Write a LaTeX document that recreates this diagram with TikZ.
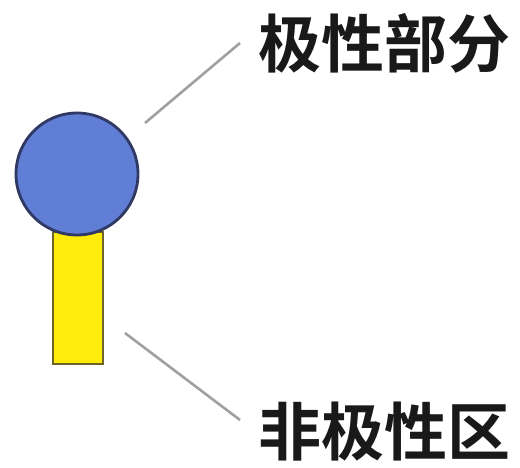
\documentclass[tikz,border=0pt]{standalone}
\usepackage{fontspec}
\newfontfamily\cjk{Noto Sans CJK SC}[BoldFont={* Bold}]
\definecolor{headblue}{RGB}{96,126,214}
\definecolor{headline}{RGB}{48,56,100}
\definecolor{tailyellow}{RGB}{255,236,10}
\definecolor{tailline}{RGB}{110,100,40}
\definecolor{leader}{RGB}{160,160,160}
\begin{document}
\begin{tikzpicture}[x=1pt,y=-1pt,
  head/.style={circle,draw=headline,fill=headblue,line width=2.8pt,minimum size=122pt,inner sep=0pt},
  tail/.style={draw=tailline,fill=tailyellow,line width=2pt,minimum width=50pt,minimum height=132pt,inner sep=0pt},
  label/.style={font=\cjk\bfseries\fontsize{63}{63}\selectfont,inner sep=0pt,anchor=west,text=black!90},
  leaderline/.style={draw=leader,line width=2.6pt}]
\useasboundingbox (0,0) rectangle (520,467);
\node[tail] (tail) at (77.5,298) {};
\node[head] (head) at (77,174) {};
\coordinate (h1) at (145,123);
\coordinate (h2) at (240,43);
\coordinate (t1) at (125,333);
\coordinate (t2) at (240,420);
\node[label] (polar) at (258,43) {极性部分};
\node[label] (nonpolar) at (258,432) {非极性区};
\draw[leaderline] (h1) -- (h2);
\draw[leaderline] (t1) -- (t2);
\end{tikzpicture}
\end{document}
